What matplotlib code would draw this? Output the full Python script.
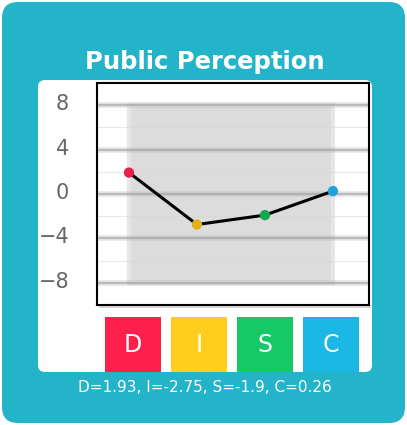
import matplotlib
matplotlib.use("Agg")
import matplotlib.pyplot as plt
from matplotlib.patches import FancyBboxPatch, Rectangle
from matplotlib.transforms import offset_copy

# data
labels = ['D', 'I', 'S', 'C']
scores = [1.93, -2.75, -1.9, 0.26]
box_colors = ['#ff1f4d', '#ffce1c', '#14c966', '#1bb8e6']
dot_colors = ['#e8204a', '#deb31a', '#12a84e', '#1ea3da']
y_ticks = [-8, -4, 0, 4, 8]
y_minor = [-6, -2, 2, 6]

TEAL = '#23b4c9'
W, H = 407, 425

fig = plt.figure(figsize=(W / 100, H / 100), dpi=100, facecolor='white')

# background card, drawn in pixel coords
bg = fig.add_axes([0, 0, 1, 1])
bg.set_xlim(0, W)
bg.set_ylim(H, 0)
bg.axis('off')
bg.add_patch(FancyBboxPatch((2, 2), 403, 421, boxstyle='round,pad=0,rounding_size=16',
                            fc=TEAL, ec='none'))
bg.add_patch(FancyBboxPatch((38, 80), 334, 292, boxstyle='round,pad=0,rounding_size=7',
                            fc='white', ec='none'))
bg.add_patch(Rectangle((99, 305), 272, 3, fc='#d8d8d8', ec='none'))
bg.text(205, 62, 'Public Perception', color='white', fontsize=17.5, fontweight='bold',
        ha='center', va='center')
summary = ', '.join(f'{l}={v:g}' for l, v in zip(labels, scores))
bg.text(205, 387, summary, color='white', fontsize=11, ha='center', va='center')

# main chart
x = list(range(len(labels)))
ax = fig.add_axes([97 / W, 1 - 305 / H, 272 / W, 222 / H])
ax.set_xlim(-0.47, 3.53)
ax.set_ylim(-10, 10)

ax.add_patch(Rectangle((x[0], y_ticks[0]), x[-1] - x[0], y_ticks[-1] - y_ticks[0],
                       fc='#dcdcdc', ec='#e6e6e6', lw=3, zorder=0))
for y in y_minor:
    ax.axhline(y, color='#d8d8d8', lw=0.8, alpha=0.6, zorder=1)
for y in y_ticks:
    ax.axhline(y, color='#b0b0b0', lw=4, alpha=0.35, zorder=1)
    ax.axhline(y, color='#a0a0a0', lw=1.5, alpha=0.6, zorder=1)

ax.plot(x, scores, color='black', lw=2.2, zorder=3)
ax.scatter(x, scores, c=dot_colors, s=55, zorder=4, edgecolors='none')

ax.set_yticks(y_ticks)
ax.set_yticklabels([f'{t}'.replace('-', '\u2212') for t in y_ticks])
ax.set_xticks([])
ax.tick_params(axis='y', length=0, labelsize=15, labelcolor='#666666', pad=20)
for lab in ax.get_yticklabels():
    lab.set_transform(offset_copy(lab.get_transform(), fig=fig, x=0, y=3, units='dots'))
for s in ax.spines.values():
    s.set_edgecolor('black')
    s.set_linewidth(1.5)

# DISC legend boxes
lg = fig.add_axes([97 / W, 1 - 372 / H, 272 / W, 55 / H])
lg.set_xlim(-0.545, 3.576)
lg.set_ylim(0, 1)
lg.axis('off')
lg.bar(x, [1] * len(x), width=0.85, bottom=0, color=box_colors)
for xi, l in zip(x, labels):
    lg.text(xi, 0.5, l, color='white', fontsize=17, ha='center', va='center')

fig.savefig('out.png', dpi=100, facecolor='white')
